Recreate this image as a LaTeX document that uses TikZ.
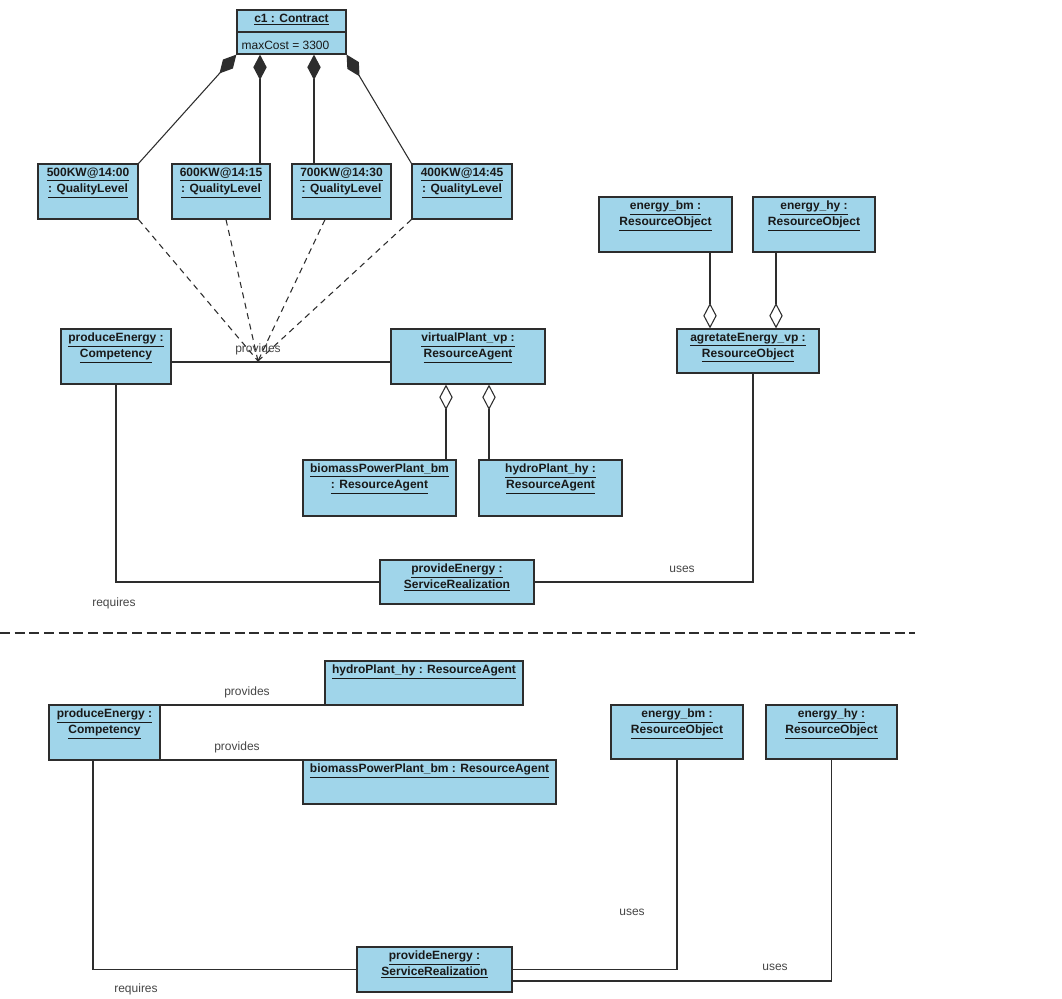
\documentclass[tikz,border=0pt]{standalone}
\usepackage{fontspec}
\setmainfont{Liberation Sans}
\definecolor{umlblue}{RGB}{160,213,234}
\definecolor{umlline}{RGB}{45,45,45}
\definecolor{umltext}{RGB}{25,25,25}
\definecolor{umllabel}{RGB}{70,70,70}
\usetikzlibrary{arrows.meta,positioning,fit,calc}
\newcommand{\uln}[1]{\underline{#1}}

\begin{document}
\begin{tikzpicture}[x=0.75pt, y=-0.75pt,
    obj/.style={draw=umlline, fill=umlblue, line width=0.9pt, inner sep=0pt},
    objtitle/.style={anchor=north, inner sep=3.3pt, align=center, text=umltext,
      font=\fontsize{9}{12}\selectfont\bfseries},
    link/.style={draw=umlline, line width=0.8pt},
    tag/.style={text=umllabel, font=\fontsize{9}{11}\selectfont, inner sep=1pt},
    comp/.style={link, {Diamond[length=19pt, width=10pt, fill=umlline]}-},
    aggr/.style={link, {Diamond[length=19pt, width=10pt, fill=white]}-},
    dep/.style={link, dash pattern=on 4.5pt off 3.5pt}]
    \fill[white] (0,0) rectangle (1062,998);
    \useasboundingbox (0,0) rectangle (1062,998);

    % ---- upper diagram: contract and quality levels
    \node[obj, fit={(237,10) (346,54)}] (c1) {};
    \node[objtitle] (c1t) at (c1.north) {\uln{c1 : Contract}};
    \draw[umlline, line width=0.9pt] (c1.west |- 0,32) -- (c1.east |- 0,32);
    \node[tag, anchor=west, text=umltext] (c1a) at (240,45) {maxCost = 3300};

    \node[obj, fit={(38,164) (138,219)}] (ql1) {};
    \node[objtitle] (ql1t) at (ql1.north) {\uln{500KW@14:00}\\\uln{: QualityLevel}};
    \node[obj, fit={(172,164) (270,219)}] (ql2) {};
    \node[objtitle] (ql2t) at (ql2.north) {\uln{600KW@14:15}\\\uln{: QualityLevel}};
    \node[obj, fit={(292,164) (391,219)}] (ql3) {};
    \node[objtitle] (ql3t) at (ql3.north) {\uln{700KW@14:30}\\\uln{: QualityLevel}};
    \node[obj, fit={(412,164) (512,219)}] (ql4) {};
    \node[objtitle] (ql4t) at (ql4.north) {\uln{400KW@14:45}\\\uln{: QualityLevel}};

    \draw[comp] (c1.south west) -- (ql1.north east);
    \draw[comp] (260,0 |- c1.south) -- (260,0 |- ql2.north);
    \draw[comp] (314,0 |- c1.south) -- (314,0 |- ql3.north);
    \draw[comp] (c1.south east) -- (ql4.north west);

    % agents and resources
    \node[obj, fit={(61,329) (171,384)}] (pe1) {};
    \node[objtitle] (pe1t) at (pe1.north) {\uln{produceEnergy :}\\\uln{Competency}};
    \node[obj, fit={(391,329) (545,384)}] (vp) {};
    \node[objtitle] (vpt) at (vp.north) {\uln{virtualPlant\_vp :}\\\uln{ResourceAgent}};
    \node[obj, fit={(303,460) (456,516)}] (bm1) {};
    \node[objtitle] (bm1t) at (bm1.north) {\uln{biomassPowerPlant\_bm}\\\uln{: ResourceAgent}};
    \node[obj, fit={(479,460) (622,516)}] (hy1) {};
    \node[objtitle] (hy1t) at (hy1.north) {\uln{hydroPlant\_hy :}\\\uln{ResourceAgent}};
    \node[obj, fit={(599,197) (732,252)}] (e1bm) {};
    \node[objtitle] (e1bmt) at (e1bm.north) {\uln{energy\_bm :}\\\uln{ResourceObject}};
    \node[obj, fit={(753,197) (875,252)}] (e1hy) {};
    \node[objtitle] (e1hyt) at (e1hy.north) {\uln{energy\_hy :}\\\uln{ResourceObject}};
    \node[obj, fit={(677,329) (819,373)}] (agg) {};
    \node[objtitle] (aggt) at (agg.north) {\uln{agretateEnergy\_vp :}\\\uln{ResourceObject}};
    \node[obj, fit={(380,560) (534,604)}] (se1) {};
    \node[objtitle] (se1t) at (se1.north) {\uln{provideEnergy :}\\\uln{ServiceRealization}};

    % provides link with quality levels attached
    \coordinate (pv) at (258,361);
    \draw[link] (pe1.east |- 0,362) -- (vp.west |- 0,362);
    \node[tag] (pr1) at (258,349) {provides};
    \draw[dep] (ql1.south east) -- (pv);
    \draw[dep] (226,0 |- ql2.south) -- (pv);
    \draw[dep] (325,0 |- ql3.south) -- (pv);
    \draw[dep] (ql4.south west) -- (pv);

    \draw[aggr] (446,0 |- vp.south) -- (446,0 |- bm1.north);
    \draw[aggr] (489,0 |- vp.south) -- (489,0 |- hy1.north);
    \draw[aggr] (710,0 |- agg.north) -- (710,0 |- e1bm.south);
    \draw[aggr] (776,0 |- agg.north) -- (776,0 |- e1hy.south);

    \draw[link] (pe1.south) |- (se1.west);
    \node[tag] (rq1) at (114,603) {requires};
    \draw[link] (se1.east) -| (753,0 |- agg.south);
    \node[tag] (us1) at (682,569) {uses};

    % separator
    \draw[umlline, line width=1.5pt, dash pattern=on 7.5pt off 3.5pt] (0,633) -- (915,633);

    % ---- lower diagram
    \node[obj, fit={(325,661) (523,705)}] (hy2) {};
    \node[objtitle] (hy2t) at (hy2.north) {\uln{hydroPlant\_hy : ResourceAgent}};
    \node[obj, fit={(49,705) (160,760)}] (pe2) {};
    \node[objtitle] (pe2t) at (pe2.north) {\uln{produceEnergy :}\\\uln{Competency}};
    \node[obj, fit={(303,760) (556,804)}] (bm2) {};
    \node[objtitle] (bm2t) at (bm2.north) {\uln{biomassPowerPlant\_bm : ResourceAgent}};
    \node[obj, fit={(611,705) (743,759)}] (e2bm) {};
    \node[objtitle] (e2bmt) at (e2bm.north) {\uln{energy\_bm :}\\\uln{ResourceObject}};
    \node[obj, fit={(766,705) (897,759)}] (e2hy) {};
    \node[objtitle] (e2hyt) at (e2hy.north) {\uln{energy\_hy :}\\\uln{ResourceObject}};
    \node[obj, fit={(357,947) (512,992)}] (se2) {};
    \node[objtitle] (se2t) at (se2.north) {\uln{provideEnergy :}\\\uln{ServiceRealization}};

    \draw[link] (pe2.east |- 0,705) -- (hy2.west |- 0,705);
    \node[tag] (pr2) at (247,692) {provides};
    \draw[link] (pe2.east |- 0,760) -- (bm2.west |- 0,760);
    \node[tag] (pr3) at (237,747) {provides};

    \draw[link] (93,0 |- pe2.south) |- (se2.west);
    \node[tag] (rq2) at (136,989) {requires};
    \draw[link] (se2.east) -| (e2bm.south);
    \node[tag] (us2) at (632,912) {uses};
    \draw[link] (se2.east |- 0,981) -| (e2hy.south);
    \node[tag] (us3) at (775,967) {uses};
\end{tikzpicture}
\end{document}
